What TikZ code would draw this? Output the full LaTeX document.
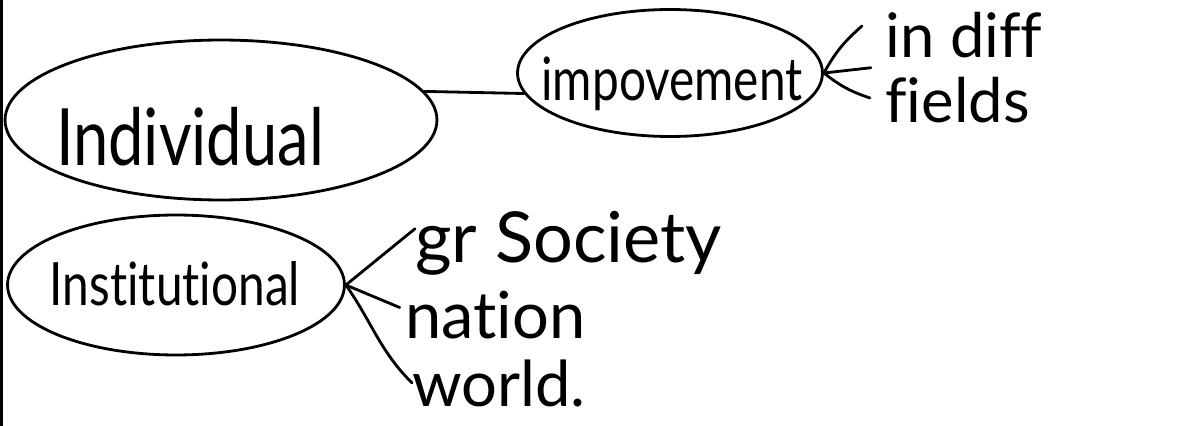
\documentclass[tikz,border=0pt]{standalone}
\usepackage{fontspec}
\setmainfont{Lato}[FakeStretch=0.8, Ligatures=NoCommon]
\newfontfamily\twigfont{Lato}[Ligatures=NoCommon]
\usetikzlibrary{shapes.geometric}
\begin{document}
\begin{tikzpicture}[
    x=0.02cm, y=-0.02cm,
    bubble/.style={draw, ellipse, line width=1.6pt, inner sep=0pt},
    word/.style={inner sep=0pt, anchor=base},
    twig/.style={inner sep=0pt, anchor=base west},
    link/.style={line width=1.6pt, line cap=round}
]
  \useasboundingbox (0,0) rectangle (1194,426);
  % scan edge on the left
  \draw[line width=2.5pt] (1,0) -- (1,426);

  % Individual -> improvement
  \node[bubble, minimum width=8.64cm, minimum height=3.2cm] (indiv) at (221,120) {};
  \node[word, font=\fontsize{45}{50}\selectfont] (indivtxt) at (190,165) {Individual};
  \node[bubble, minimum width=6.1cm, minimum height=2.54cm] (impr) at (670,73) {};
  \node[word, font=\fontsize{34}{40}\selectfont] (imprtxt) at (672,100) {impovement};
  \draw[link] (indiv.8) -- (impr.188);

  % fan to the right
  \node[twig, anchor=north west, align=left, font=\twigfont\fontsize{35}{37}\selectfont] (diff) at (885,12) {in diff\\fields};
  \coordinate (fanup) at (862,26);
  \coordinate (fandown) at (870,98);
  \draw[link] (impr.east) to[bend left=10] (fanup);
  \draw[link] (impr.east) -- ([xshift=-8pt]diff.west);
  \draw[link] (impr.east) to[bend right=10] (fandown);

  % Institutional and its three branches
  \node[bubble, minimum width=6.74cm, minimum height=2.8cm] (inst) at (176,285) {};
  \node[word, font=\fontsize{34}{40}\selectfont] (insttxt) at (175,305) {Institutional};
  \node[twig, font=\twigfont\fontsize{40}{44}\selectfont] (soc) at (415,262) {gr Society};
  \node[twig, font=\twigfont\fontsize{37}{42}\selectfont] (nat) at (405,338) {nation};
  \node[twig, font=\twigfont\fontsize{36}{42}\selectfont] (wld) at (412,406) {world.};
  \draw[link] (inst.east) -- ([yshift=8pt]soc.west);
  \draw[link] (inst.east) -- ([xshift=-3pt,yshift=4pt]nat.west);
  \draw[link] (inst.east) to[out=-55, in=135] (wld.west);
\end{tikzpicture}
\end{document}
